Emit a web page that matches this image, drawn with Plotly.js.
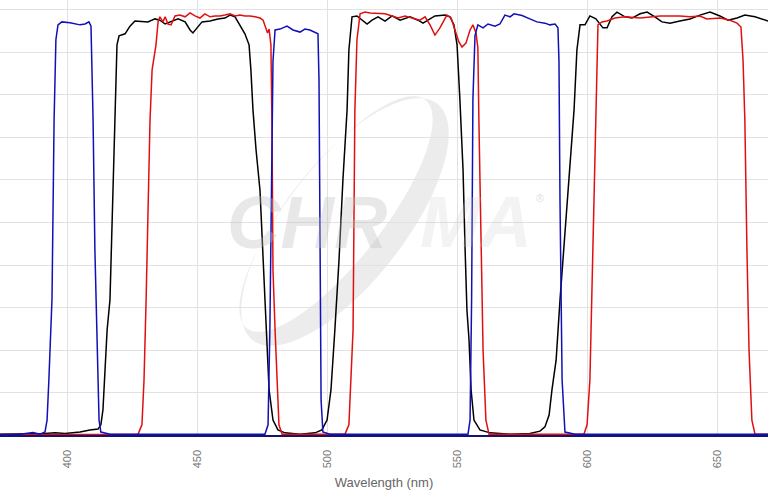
<!DOCTYPE html>
<html>
<head>
<meta charset="utf-8">
<script src="https://cdn.plot.ly/plotly-3.0.1.min.js"></script>
<style>html,body{margin:0;padding:0;background:#fff;}#chart{width:768px;height:497px;}</style>
</head>
<body>
<div id="chart"></div>
<script>
// Excitation filter (blue)
const blueWl = [374.2,381.9,386.9,389.6,391.5,392.3,393.0,394.2,395.0,395.7,396.5,398.0,401.1,403.0,405.0,406.9,408.4,409.2,410.0,410.7,411.5,412.3,413.0,416.5,
  476.1,477.3,478.0,478.7,479.2,480.0,481.9,484.6,486.9,489.6,491.5,493.4,495.4,496.5,496.9,497.3,497.7,498.4,501.1,
  554.2,555.0,555.6,556.1,556.9,558.0,560.0,561.9,564.6,566.5,568.4,570.4,571.9,575.0,578.0,580.7,583.8,585.7,587.7,588.8,589.2,589.6,590.4,591.5,595.4,669.6];
const blueT = [0.1,0.2,0.6,0.2,0.7,3.5,13,32,74,93,96.5,97.2,97,96.7,96.5,96.7,97.2,96.2,74,43.5,20,3.5,0.7,0.2,
  0.2,2.4,24.7,67,88,95.3,95.5,96.2,95.3,94.8,95.5,95.3,94.8,94.4,83.5,43.5,8.2,0.7,0.2,
  0.2,3.5,32,79,94,96.5,95.8,96.7,96.2,96.7,98.8,98.4,99.1,98.7,97.9,97.2,96.9,96.5,96.7,95.8,88,55,13,0.7,0.2,0.2];

// Dichroic mirror (black)
const blackWl = [374.2,385.7,391.5,395.4,399.2,405.0,408.8,411.9,413.0,413.8,414.6,415.4,416.5,417.7,418.4,419.2,420.0,422.3,424.2,426.1,428.8,431.1,433.8,435.7,437.7,439.6,442.7,445.4,447.3,448.4,450.0,451.9,455.0,458.0,460.7,462.7,464.6,466.5,468.4,470.0,470.7,471.5,472.7,474.2,475.4,476.5,477.7,479.2,481.1,483.8,489.6,495.4,498.0,500.0,501.5,503.0,504.6,506.1,507.7,508.4,509.6,511.5,513.4,515.4,517.3,519.6,522.3,525.0,528.1,531.9,535.0,536.9,538.8,541.5,545.4,547.3,548.8,550.0,551.1,552.3,553.1,553.8,554.6,555.4,556.5,558.8,562.7,570.4,578.0,581.9,583.8,585.4,586.5,588.1,589.6,591.5,593.4,595.0,596.1,597.3,599.2,601.1,603.4,606.1,607.7,609.6,611.5,614.6,617.3,620.4,623.1,626.1,628.8,631.9,635.7,639.6,643.4,647.3,651.1,654.2,657.7,660.7,664.6,669.6];
const blackT = [0.2,0.2,0.35,0.5,0.35,0.7,1.2,1.4,2.4,5.9,15.3,24.7,31.8,55.3,74,91.8,93.9,94.4,96.2,97.4,97.2,97.2,97.9,97.6,96.7,97.2,97.9,97.2,95.3,94.6,95.8,97.2,97.4,97.9,98.1,98.8,98.4,96.5,94.4,91.8,85.9,76.5,67,57.6,41.2,24.7,10.6,3.5,1.2,0.5,0.2,0.5,1.2,3.5,10.6,24.7,41.2,60,76.5,90.6,98.4,98.6,97.6,96.7,97.6,98.4,97.4,98.6,97.6,98.4,97.6,96.9,97.6,98.6,98.8,98.4,96.5,91.8,78.8,62.4,43.5,29.4,22.4,10.6,3.5,1.2,0.5,0.2,0.35,0.9,1.9,4.7,10.6,17.6,31.8,48.2,62.4,76.5,90.6,96.5,96.5,98.6,97.9,95.8,95.8,98.4,99.5,98.4,98.1,99.1,99.5,98.4,97.2,96.9,97.4,97.9,98.8,99.5,98.6,97.6,98.1,98.8,98.4,97.4];

// Emission filter (red)
const redWl = [374.2,427.3,428.8,429.6,430.4,431.1,431.9,432.7,433.4,434.2,435.0,435.7,436.9,437.7,438.8,440.0,441.5,443.4,445.4,447.3,449.2,451.1,453.0,455.0,456.9,458.8,460.7,462.7,464.6,466.5,468.4,470.4,472.3,474.2,475.4,476.5,477.1,477.7,478.4,478.8,479.2,480.0,480.7,481.5,482.7,
  506.9,508.4,509.2,510.0,510.7,511.5,512.7,514.6,516.5,519.6,522.3,525.0,527.3,530.0,533.1,535.7,537.7,539.6,541.5,543.4,546.1,547.7,549.2,550.7,551.9,553.4,555.0,556.1,557.3,558.0,558.4,559.2,560.0,561.1,562.3,
  598.8,600.0,601.1,602.3,603.4,604.2,605.7,607.7,610.7,614.6,620.4,628.1,635.7,639.6,643.4,646.1,651.1,655.0,657.7,659.2,660.0,660.7,661.5,662.3,663.4,664.6,669.6];
const redT = [0.1,0.2,2.4,13,31.8,55.3,74,85.9,89.2,91.8,97.2,98.4,97.2,98.4,96.7,96.5,98.6,98.8,98.4,99.3,98.6,98.1,99.1,98.4,98.6,98.6,98.8,99.1,98.6,98.8,98.6,98.6,98.4,98.1,97.6,95.8,94.6,95.5,91.8,74,38.8,24.7,13,2.4,0.2,
  0.2,2.4,13,24.7,76.5,93,99.1,99.5,99.3,99.1,99.1,98.6,98.1,98.6,98.1,97.6,98.4,96.5,94.1,95.8,98.8,98.1,95.3,92.5,91.3,92.2,95.3,96.5,94.6,91.1,74,43.5,20,3.5,0.2,
  0.2,2.4,13,43.5,74,96.5,97.2,97.4,98.1,98.4,98.1,98.6,98.6,98.4,98.6,97.9,98.1,97.6,96.9,96,88.2,74,43.5,20,3.5,0.2,0.2];

const xTicks = [400,450,500,550,600,650];
const xTickText = ['400','450','500','550','600','650'];

// watermark swoosh (decoration only)
const W = 768, H = 435;
function ellPath(cx, cy, a, b, angDeg, n) {
  const t = angDeg * Math.PI / 180;
  let s = '';
  for (let i = 0; i <= n; i++) {
    const u = 2 * Math.PI * i / n;
    const px = cx + a * Math.cos(u) * Math.cos(t) - b * Math.sin(u) * Math.sin(t);
    const py = cy + a * Math.cos(u) * Math.sin(t) + b * Math.sin(u) * Math.cos(t);
    s += (i === 0 ? 'M' : 'L') + (px / W).toFixed(4) + ',' + (1 - py / H).toFixed(4);
  }
  return s + 'Z';
}
const swoosh = ellPath(345, 222, 150, 60, -52, 90) + ' ' + ellPath(336, 214, 145, 47, -52, 90);

const traces = [
  {x: blackWl, y: blackT, type: 'scatter', mode: 'lines', name: 'Dichroic', line: {color: '#000000', width: 1.5}},
  {x: redWl, y: redT, type: 'scatter', mode: 'lines', name: 'Emission', line: {color: '#e01010', width: 1.5}},
  {x: blueWl, y: blueT, type: 'scatter', mode: 'lines', name: 'Excitation', line: {color: '#1010b8', width: 1.5}}
];

const layout = {
  width: 768, height: 497,
  margin: {l: 0, r: 0, t: 0, b: 62},
  paper_bgcolor: '#ffffff', plot_bgcolor: '#ffffff',
  showlegend: false,
  font: {family: 'Liberation Sans, Arial, sans-serif', color: '#777'},
  xaxis: {
    range: [374.2, 669.6],
    tickvals: xTicks, ticktext: xTickText,
    tickangle: -90,
    tickfont: {size: 11, color: '#777'},
    ticks: 'outside', ticklen: 9, tickcolor: 'rgba(0,0,0,0)',
    showgrid: true, gridcolor: '#e2e2e2', gridwidth: 1,
    showline: true, linecolor: '#14146e', linewidth: 1.5,
    zeroline: false,
    title: {text: 'Wavelength (nm)', font: {size: 13, color: '#666'}, standoff: 10}
  },
  yaxis: {
    range: [0, 102.35],
    dtick: 10, tick0: 0,
    showticklabels: false, ticks: '',
    showgrid: true, gridcolor: '#e2e2e2', gridwidth: 1,
    showline: false, zeroline: false
  },
  shapes: [{
    type: 'path', xref: 'paper', yref: 'paper', path: swoosh,
    fillcolor: 'rgba(200,200,200,0.35)', fillrule: 'evenodd',
    line: {width: 0}, layer: 'below'
  }],
  annotations: [
    {xref: 'paper', yref: 'paper', x: 307 / 768, y: 1 - 222 / 435, text: '<b><i>CHR</i></b>', showarrow: false,
     font: {family: 'Liberation Sans Narrow, Arial Narrow, Liberation Sans, sans-serif', size: 74, color: 'rgba(190,190,190,0.35)'}},
    {xref: 'paper', yref: 'paper', x: 476 / 768, y: 1 - 222 / 435, text: '<b><i>MA</i></b>', showarrow: false,
     font: {family: 'Liberation Sans Narrow, Arial Narrow, Liberation Sans, sans-serif', size: 72, color: 'rgba(200,200,200,0.22)'}},
    {xref: 'paper', yref: 'paper', x: 546 / 768, y: 1 - 198 / 435, text: '®', showarrow: false,
     font: {size: 11, color: 'rgba(190,190,190,0.5)'}}
  ]
};

Plotly.newPlot('chart', traces, layout, {displayModeBar: false, staticPlot: true});
</script>
</body>
</html>
